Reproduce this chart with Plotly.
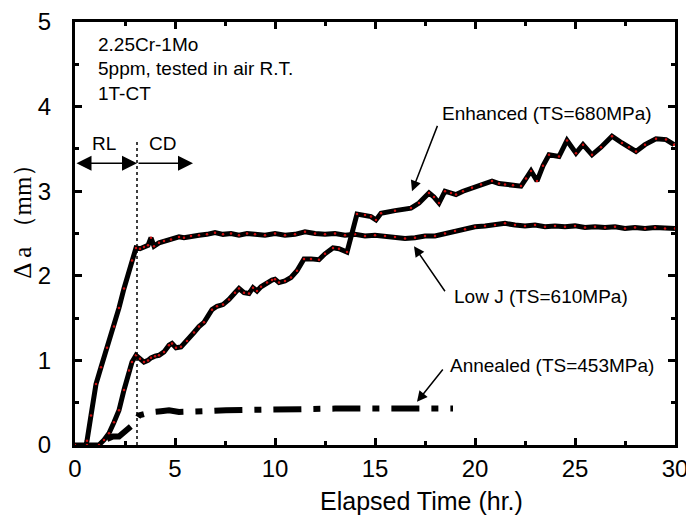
import plotly.graph_objects as go

# Low J (TS=610MPa)
lowj_t = [0.55, 0.6, 0.8, 1.05, 1.3, 1.6, 1.95, 2.2, 2.45, 2.85, 3.05, 3.25, 3.45, 3.65, 3.8, 3.95,
          4.2, 4.45, 4.8, 5.2, 5.45, 5.8, 6.2, 6.6, 7.0, 7.4, 7.8, 8.2, 8.6, 9.0, 9.5, 10.0, 10.5,
          11.0, 11.5, 12.0, 12.5, 13.0, 13.5, 14.0, 14.5, 15.0, 15.5, 16.0, 16.5, 17.0, 17.5, 18.0,
          18.5, 19.0, 19.5, 20.0, 20.5, 21.0, 21.5, 22.0, 22.5, 23.0, 23.5, 24.0, 24.5, 25.0, 25.5,
          26.0, 26.5, 27.0, 27.5, 28.0, 28.5, 29.0, 29.5, 30.0]
lowj_a = [0.0, 0.05, 0.35, 0.72, 0.92, 1.15, 1.4, 1.62, 1.85, 2.18, 2.33, 2.32, 2.34, 2.36, 2.45, 2.35,
          2.39, 2.41, 2.43, 2.46, 2.45, 2.47, 2.48, 2.49, 2.51, 2.49, 2.5, 2.48, 2.5, 2.49, 2.48, 2.5, 2.48,
          2.49, 2.52, 2.5, 2.49, 2.5, 2.48, 2.49, 2.47, 2.48, 2.47, 2.46, 2.44, 2.45, 2.47, 2.47,
          2.5, 2.53, 2.55, 2.58, 2.59, 2.6, 2.62, 2.6, 2.59, 2.6, 2.58, 2.59, 2.58, 2.59, 2.57,
          2.58, 2.57, 2.58, 2.56, 2.57, 2.56, 2.57, 2.56, 2.56]

# Enhanced (TS=680MPa)
enh_t = [0.0, 0.6, 1.2, 1.45, 1.7, 1.95, 2.2, 2.45, 2.7, 2.85, 3.05, 3.25, 3.45, 3.65, 3.8, 4.0, 4.2,
         4.45, 4.7, 4.85, 5.05, 5.3, 5.6, 5.95, 6.2, 6.45, 6.85, 7.1, 7.4, 7.7, 8.0, 8.2, 8.45, 8.7,
         8.9, 9.1, 9.3, 9.6, 9.85, 10.0, 10.2, 10.5, 10.8, 11.1, 11.45, 11.8, 12.2, 12.5, 12.9, 13.2,
         13.6, 14.1, 14.5, 14.8, 15.05, 15.3, 16.0, 16.8, 17.2, 17.7, 17.95, 18.2, 18.5, 18.8, 19.05,
         19.4, 19.85, 20.3, 20.85, 21.2, 21.5, 21.9, 22.3, 22.55, 22.8, 23.1, 23.4, 23.7, 24.2, 24.6,
         25.05, 25.4, 25.85, 26.3, 26.85, 27.35, 27.7, 28.05, 28.5, 29.05, 29.55, 29.95]
enh_a = [0.0, 0.0, 0.0, 0.06, 0.14, 0.27, 0.41, 0.65, 0.88, 0.98, 1.06, 1.02, 0.98, 1.0, 1.03, 1.05, 1.06,
         1.1, 1.18, 1.2, 1.15, 1.16, 1.23, 1.33, 1.4, 1.45, 1.6, 1.64, 1.66, 1.72, 1.8, 1.85, 1.8, 1.79,
         1.86, 1.82, 1.87, 1.92, 1.95, 1.96, 1.92, 1.94, 1.98, 2.06, 2.2, 2.2, 2.19, 2.26, 2.33, 2.32,
         2.28, 2.73, 2.72, 2.7, 2.66, 2.74, 2.77, 2.8, 2.86, 2.98, 2.93, 2.86, 3.0, 2.98, 2.96,
         3.0, 3.04, 3.08, 3.12, 3.09, 3.08, 3.07, 3.06, 3.15, 3.24, 3.12, 3.3, 3.43, 3.41, 3.6,
         3.45, 3.55, 3.43, 3.52, 3.65, 3.57, 3.52, 3.47, 3.55, 3.62, 3.61, 3.55]

# Annealed (TS=453MPa)
ann_t = [1.6, 1.9, 2.2, 2.45, 2.7, 2.9, 3.2, 3.5, 3.85, 4.3, 4.7, 5.2, 5.7, 6.55, 7.55, 9.0, 11.0,
         13.0, 15.0, 17.0, 18.9]
ann_a = [0.07, 0.1, 0.1, 0.15, 0.2, 0.24, 0.35, 0.37, 0.39, 0.4, 0.41, 0.39, 0.39, 0.4, 0.41, 0.42, 0.42,
         0.43, 0.43, 0.43, 0.43]

FONT = "Arial, Liberation Sans, sans-serif"

fig = go.Figure()

fig.add_trace(go.Scatter(x=lowj_t, y=lowj_a, mode="lines+markers",
                         line=dict(color="black", width=5),
                         marker=dict(color="#d01010", size=2.5)))
fig.add_trace(go.Scatter(x=enh_t, y=enh_a, mode="lines+markers",
                         line=dict(color="black", width=5),
                         marker=dict(color="#d01010", size=2.5)))
fig.add_trace(go.Scatter(x=ann_t, y=ann_a, mode="lines",
                         line=dict(color="black", width=6, dash="28px,12px,7px,12px")))

# RL / CD boundary
fig.add_shape(type="line", x0=3.1, x1=3.1, y0=0, y1=3.6, xref="x", yref="y",
              line=dict(color="black", width=1.5, dash="dot"))

anns = []
# RL double arrow and CD arrow
anns.append(dict(x=3.1, y=3.33, ax=0, ay=3.33, xref="x", yref="y", axref="x", ayref="y",
                 text="", showarrow=True, arrowside="end+start", arrowhead=2, startarrowhead=2,
                 arrowsize=2, startarrowsize=2, arrowwidth=1.5, arrowcolor="black",
                 standoff=0, startstandoff=0))
anns.append(dict(x=5.9, y=3.33, ax=3.1, ay=3.33, xref="x", yref="y", axref="x", ayref="y",
                 text="", showarrow=True, arrowhead=2, arrowsize=2, arrowwidth=1.5,
                 arrowcolor="black", standoff=0))
anns.append(dict(x=1.45, y=3.56, text="RL", showarrow=False, xref="x", yref="y",
                 font=dict(family=FONT, size=19, color="black")))
anns.append(dict(x=4.35, y=3.56, text="CD", showarrow=False, xref="x", yref="y",
                 font=dict(family=FONT, size=19, color="black")))

# condition notes
for txt, yy in [("2.25Cr-1Mo", 4.73), ("5ppm, tested in air R.T.", 4.45), ("1T-CT", 4.15)]:
    anns.append(dict(x=1.05, y=yy, text=txt, showarrow=False, xref="x", yref="y",
                     xanchor="left", font=dict(family=FONT, size=19, color="black")))

# curve labels with pointers
labels = [
    ("Enhanced (TS=680MPa)", 18.25, 3.92, 16.85, 3.0, 18.15, 3.79),
    ("Low J (TS=610MPa)", 18.85, 1.76, 16.95, 2.35, 18.55, 1.8),
    ("Annealed (TS=453MPa)", 18.65, 0.94, 17.1, 0.51, 18.45, 0.91),
]
for txt, tx, ty, hx, hy, sx, sy in labels:
    anns.append(dict(x=tx, y=ty, text=txt, showarrow=False, xref="x", yref="y",
                     xanchor="left", font=dict(family=FONT, size=19, color="black")))
    anns.append(dict(x=hx, y=hy, ax=sx, ay=sy, xref="x", yref="y", axref="x", ayref="y",
                     text="", showarrow=True, arrowhead=2, arrowsize=1.4, arrowwidth=1.5,
                     arrowcolor="black", standoff=0))

# axis titles
anns.append(dict(x=0.5775, y=0, xref="paper", yref="paper", yshift=-56, showarrow=False,
                 xanchor="center", yanchor="middle",
                 text="Elapsed Time (hr.)", font=dict(family=FONT, size=25, color="black")))
anns.append(dict(x=0, y=0.542, xref="paper", yref="paper", xshift=-52, showarrow=False,
                 xanchor="center", yanchor="middle",
                 textangle=-90, text="Δ a （mm）",
                 font=dict(family="Liberation Serif, serif", size=25, color="black")))

# the page body keeps its 8px default margin, so the figure is 8px smaller
fig.update_layout(
    width=686, height=512,
    margin=dict(l=67, r=19, t=14, b=75),
    plot_bgcolor="white", paper_bgcolor="white",
    showlegend=False,
    annotations=anns,
)
fig.update_xaxes(range=[0, 30], dtick=5, showline=True, linewidth=3, linecolor="black",
                 mirror="allticks", ticks="inside", ticklen=7, tickwidth=2.5, tickcolor="black",
                 minor=dict(dtick=2.5, ticks="inside", ticklen=4, tickwidth=2.5, tickcolor="black"),
                 showgrid=False, zeroline=False, ticklabelstandoff=0, automargin=False,
                 ticklabeloverflow="allow",
                 tickfont=dict(family=FONT, size=24, color="black"))
fig.update_yaxes(range=[0, 5], dtick=1, showline=True, linewidth=3, linecolor="black",
                 mirror="allticks", ticks="inside", ticklen=7, tickwidth=2.5, tickcolor="black",
                 minor=dict(dtick=0.5, ticks="inside", ticklen=4, tickwidth=2.5, tickcolor="black"),
                 showgrid=False, zeroline=False, ticklabelstandoff=16, automargin=False,
                 ticklabeloverflow="allow",
                 tickfont=dict(family=FONT, size=24, color="black"))

fig.write_html("out.html")
